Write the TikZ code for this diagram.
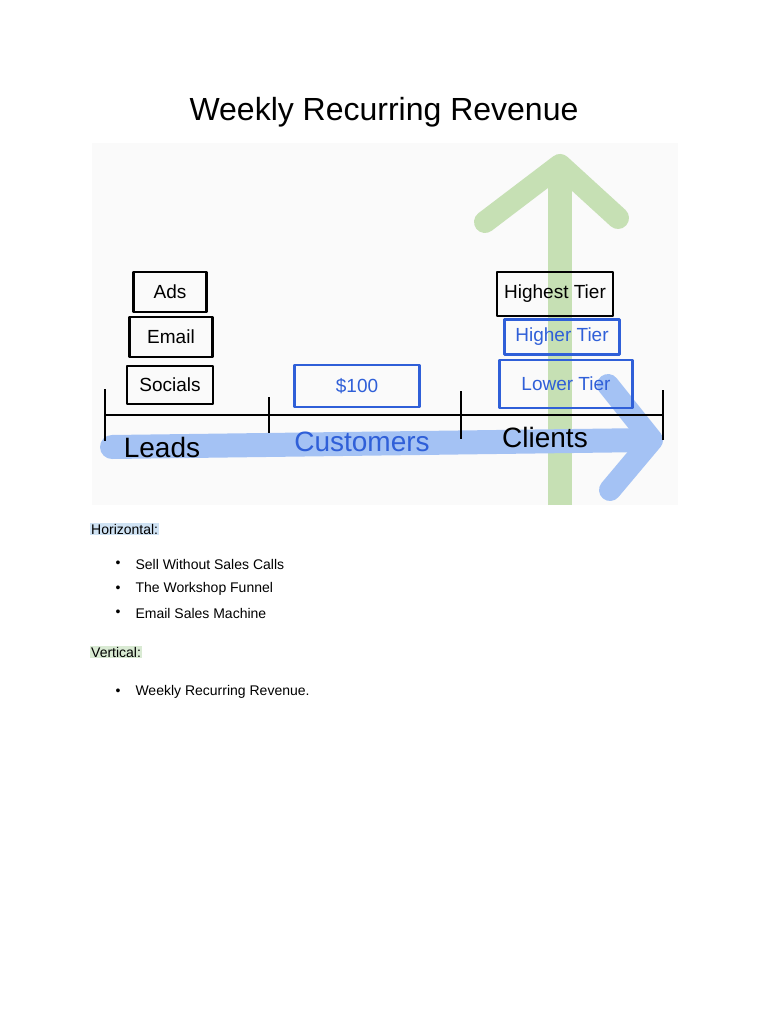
\documentclass[tikz,border=0pt]{standalone}
\usepackage{fontspec}
\setmainfont{Liberation Sans}
\definecolor{penblue}{HTML}{2F5FD8}
\definecolor{bandblue}{HTML}{A4C2F4}
\definecolor{bandgreen}{HTML}{C6E0B4}
\definecolor{hlblue}{HTML}{CFE2F3}
\definecolor{hlgreen}{HTML}{D9EAD3}
\begin{document}
\begin{tikzpicture}[x=1pt,y=-1pt,
  ink/.style={line width=2.2pt,line join=round},
  tag/.style={ink,draw,rectangle,inner sep=0pt,font=\fontsize{19}{19}\selectfont},
  axlabel/.style={font=\fontsize{28}{28}\selectfont},
  item/.style={anchor=west,font=\fontsize{14}{14}\selectfont},
  dot/.style={font=\fontsize{14}{14}\selectfont}]
\useasboundingbox[fill=white] (0,0) rectangle (768,1024);
% title
\node (title) at (384,112) {\fontsize{32}{32}\selectfont Weekly Recurring Revenue};
% sketch panel
\fill[black!2] (92,143) rectangle (678,505);
% vertical arrow
\draw[bandgreen,line width=24pt] (560,505) -- (560,165);
\draw[bandgreen,line width=22pt,line cap=round,line join=round] (485,222) -- (560,165) -- (618,218);
% horizontal arrow
\draw[bandblue,line width=24pt,line cap=round] (112,447) -- (650,440);
\draw[bandblue,line width=22pt,line cap=round,line join=round] (608,385) -- (652,440) -- (610,490);
% axis and ticks
\coordinate (a0) at (105,415);
\coordinate (a3) at (663,415);
\draw[line width=1.2pt] (a0) -- (a3);
\foreach \x/\h in {105/26,269/18,461/24,663/25}
  \draw[ink,line width=2.6pt] (\x,415-\h) -- (\x,415+\h);
% axis labels
\node[axlabel] (leads) at (162,447) {Leads};
\node[axlabel,penblue] (cust) at (362,442) {Customers};
\node[axlabel] (clients) at (545,437) {Clients};
% lead sources
\node[tag,minimum width=73pt,minimum height=40pt] (ads) at (170,292) {Ads};
\node[tag,minimum width=83pt,minimum height=40pt] (email) at (171,337) {Email};
\node[tag,minimum width=86pt,minimum height=38pt] (socials) at (170,385) {Socials};
% offer
\node[tag,penblue,minimum width=125pt,minimum height=42pt] (offer) at (357,386) {\$100};
% tiers
\node[tag,minimum width=116pt,minimum height=44pt] (highest) at (555,294) {Highest Tier};
\node[tag,penblue,minimum width=115pt,minimum height=35pt] (higher) at (562,337) {Higher Tier};
\node[tag,penblue,minimum width=133pt,minimum height=48pt] (lower) at (566,384) {Lower Tier};
% notes
\node[item,fill=hlblue,inner sep=1pt] (horiz) at (90,529) {Horizontal:};
\foreach \t [count=\i] in {Sell Without Sales Calls,The Workshop Funnel,Email Sales Machine} {
  \node[dot] (b\i) at (118,540+24.5*\i) {•};
  \node[item] (h\i) at (132,540+24.5*\i) {\t};
}
\node[item,fill=hlgreen,inner sep=1pt] (vert) at (90,652) {Vertical:};
\node[dot] (b4) at (118,692) {•};
\node[item] (v1) at (132,692) {Weekly Recurring Revenue.};
\end{tikzpicture}
\end{document}
